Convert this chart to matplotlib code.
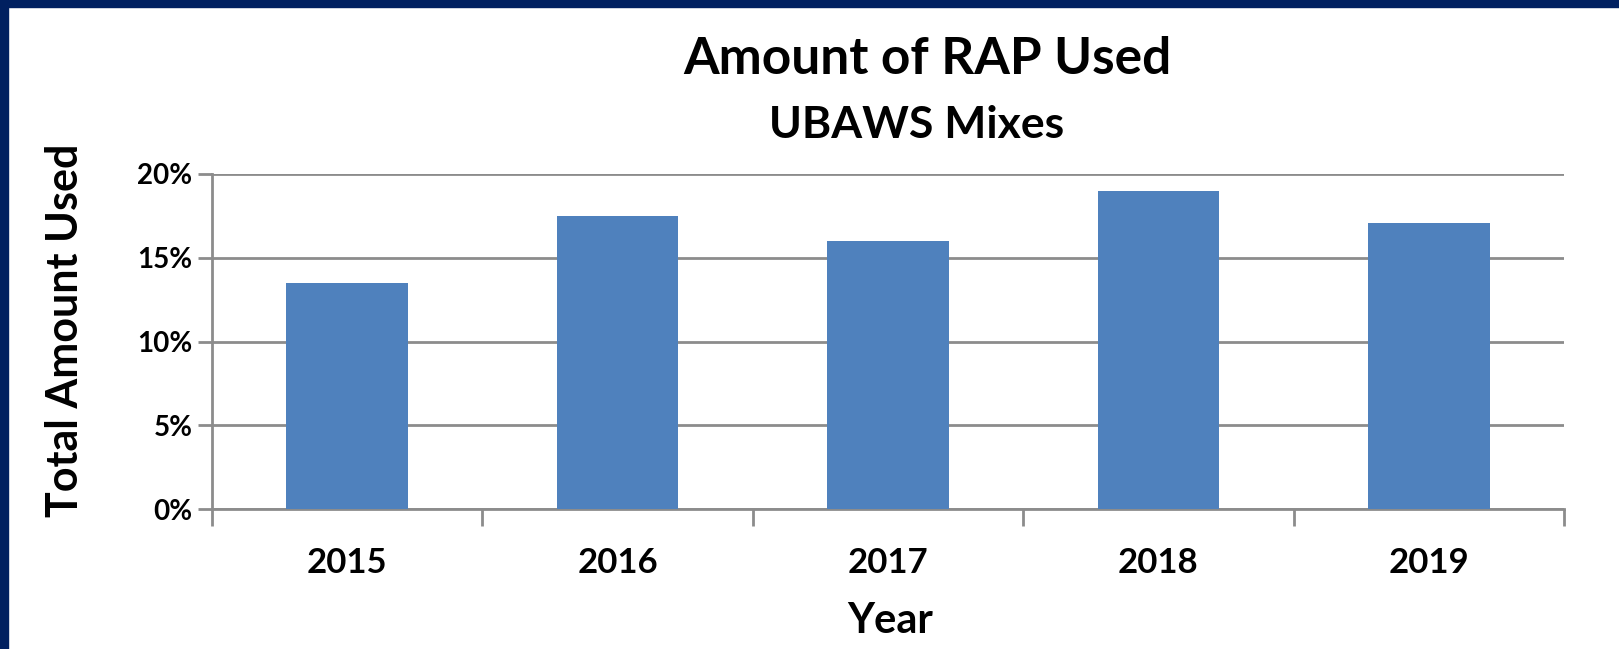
import matplotlib
matplotlib.use('Agg')
import matplotlib.pyplot as plt
from matplotlib.patches import Rectangle
from matplotlib.ticker import FixedLocator, PercentFormatter

# ── Data ──
years = ['2015', '2016', '2017', '2018', '2019']
rap_used = [13.5, 17.5, 16.0, 19.0, 17.1]   # percent

plt.rcParams['font.family'] = ['Lato', 'DejaVu Sans']
plt.rcParams['font.weight'] = 'bold'

fig = plt.figure(figsize=(16.19, 6.49), dpi=100)
ax = fig.add_axes([0.1309, 0.2157, 0.966 - 0.1309, 0.7319 - 0.2157])

x = list(range(len(years)))
ax.bar(x, rap_used, width=0.45, color='#4F81BD', zorder=3)

grid_c = '#8C8C8C'
ax.set_ylim(0, 20)
ax.set_xlim(-0.5, len(years) - 0.5)
ax.set_yticks([0, 5, 10, 15, 20])
ax.yaxis.set_major_formatter(PercentFormatter(decimals=0))
ax.grid(axis='y', color=grid_c, linewidth=2, zorder=0)

# category boundary ticks, labels centred between them
ax.xaxis.set_major_locator(FixedLocator([i - 0.5 for i in range(len(years) + 1)]))
ax.xaxis.set_major_formatter(plt.NullFormatter())
ax.set_xticks(x, minor=True)
ax.set_xticklabels(years, minor=True)
ax.tick_params(axis='x', which='major', length=12, width=2, color=grid_c)
ax.tick_params(axis='x', which='minor', length=0, pad=27, labelsize=25)
ax.tick_params(axis='y', length=10, width=2, color=grid_c, labelsize=20, pad=4)

for s in ['top', 'right']:
    ax.spines[s].set_visible(False)
for s in ['left', 'bottom']:
    ax.spines[s].set_color(grid_c)
    ax.spines[s].set_linewidth(2)

ax.set_ylabel('Total Amount Used', fontsize=31, fontweight='bold')
ax.yaxis.set_label_coords(-0.1087, 0.534)
ax.yaxis.label.set_va('center')
ax.set_xlabel('Year', fontsize=30, fontweight='bold')
ax.xaxis.set_label_coords(0.5015, -0.335)
ax.xaxis.label.set_va('center')

fig.text(0.573, 0.909, 'Amount of RAP Used', ha='center', va='center',
         fontsize=37, fontweight='bold')
fig.text(0.566, 0.808, 'UBAWS Mixes', ha='center', va='center',
         fontsize=32, fontweight='bold')

# navy frame edges
navy = '#002060'
fig.patches.append(Rectangle((0, 0), 8 / 1619, 1, transform=fig.transFigure,
                             color=navy, zorder=10))
fig.patches.append(Rectangle((0, 1 - 7 / 649), 1, 7 / 649, transform=fig.transFigure,
                             color=navy, zorder=10))

fig.savefig('out.png', dpi=100)
